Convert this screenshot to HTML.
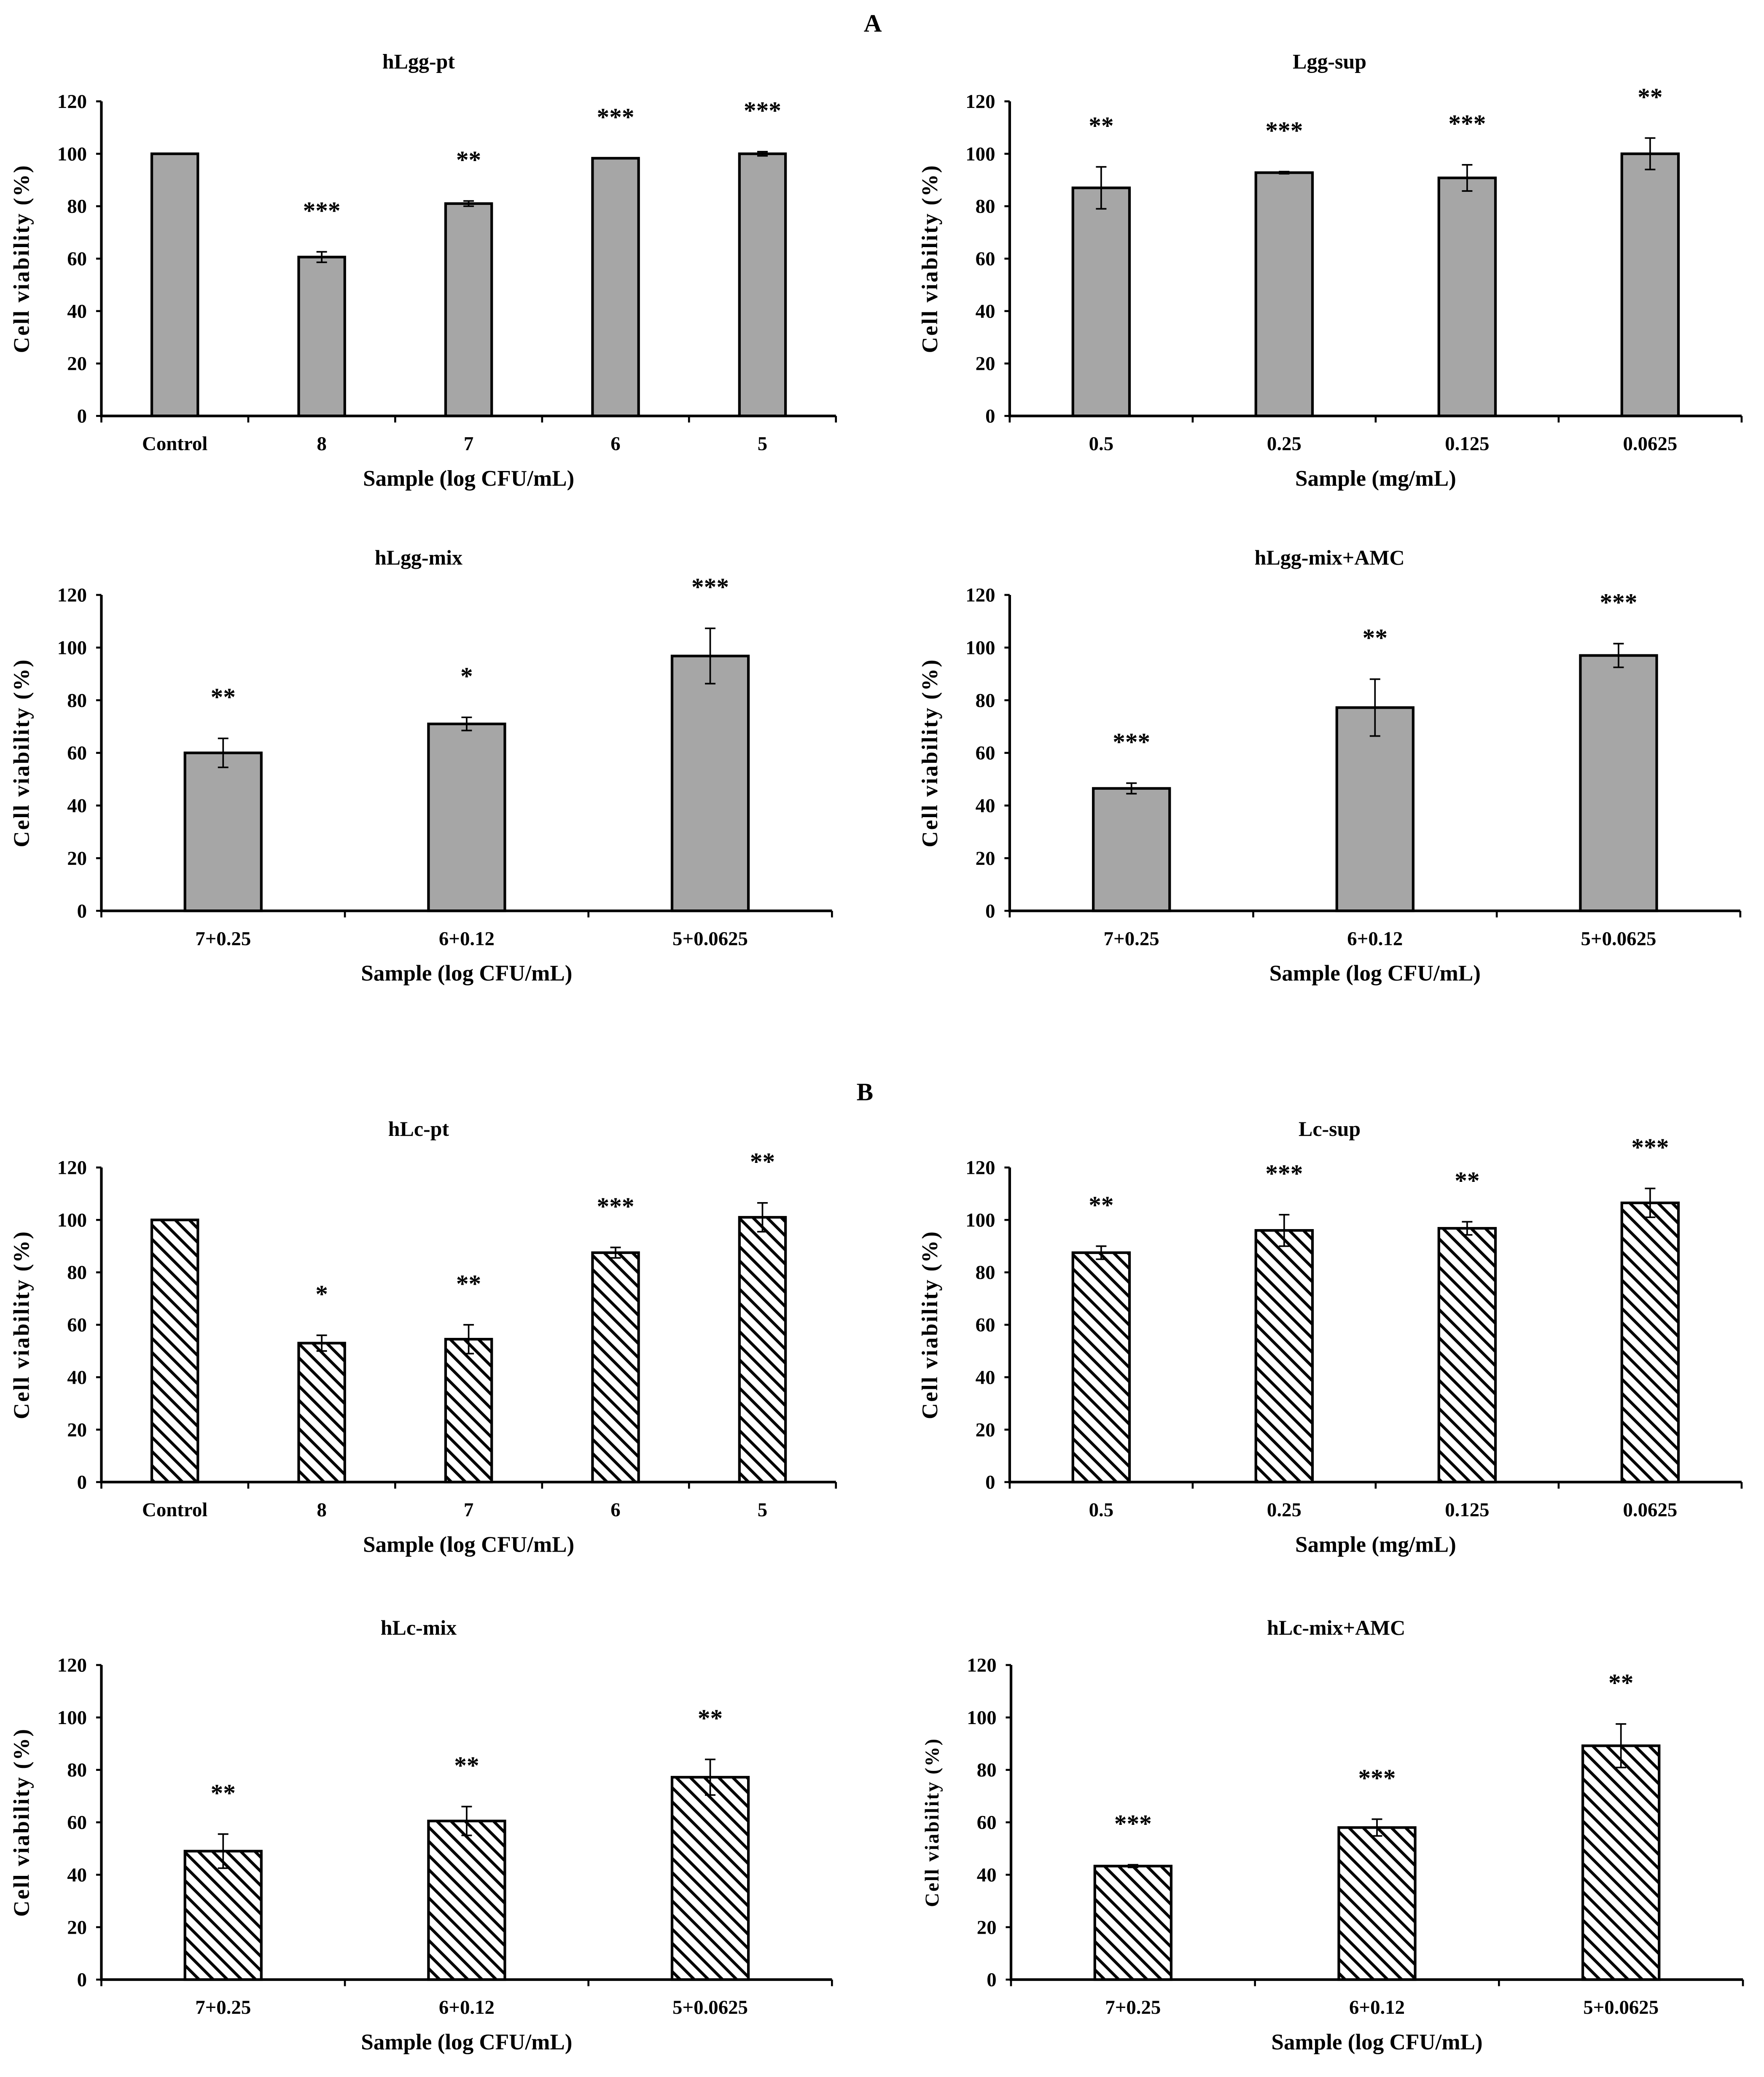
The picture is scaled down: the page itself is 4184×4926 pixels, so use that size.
<!DOCTYPE html>
<html><head><meta charset="utf-8"><style>
html,body{margin:0;padding:0;background:#fff;}
svg{display:block;}
text{font-family:"Liberation Serif",serif;font-weight:bold;fill:#000;}
</style></head><body>
<svg id="fig" width="4184" height="4926" viewBox="0 0 1340 1578" preserveAspectRatio="none" xmlns="http://www.w3.org/2000/svg">
<defs>
<pattern id="hatch" patternUnits="userSpaceOnUse" width="7.6" height="7.6" patternTransform="rotate(-45)">
<rect width="7.6" height="7.6" fill="#fff"/>
<line x1="0" y1="0" x2="0" y2="7.6" stroke="#000" stroke-width="4.4"/>
</pattern>
</defs>
<text x="663" y="24" font-size="19" text-anchor="middle">A</text>
<text x="657" y="836" font-size="19" text-anchor="middle">B</text>
</svg>
<script>
// ---- data ----
const catsPt = ["Control","8","7","6","5"];
const catsSup = ["0.5","0.25","0.125","0.0625"];
const catsMix = ["7+0.25","6+0.12","5+0.0625"];
const yTicks = [0,20,40,60,80,100,120];

const hLggPtVals = [100,60.6,81,98.3,100];
const hLggPtErr = [0,2,1,0,0.8];
const hLggPtStars = ["","***","**","***","***"];

const lggSupVals = [87,92.8,90.8,100];
const lggSupErr = [8,0.4,5,6];
const lggSupStars = ["**","***","***","**"];

const hLggMixVals = [60,71,96.8];
const hLggMixErr = [5.5,2.5,10.5];
const hLggMixStars = ["**","*","***"];

const hLggAmcVals = [46.5,77.2,97];
const hLggAmcErr = [2,10.8,4.5];
const hLggAmcStars = ["***","**","***"];

const hLcPtVals = [100,53,54.5,87.5,101];
const hLcPtErr = [0,3,5.5,2,5.5];
const hLcPtStars = ["","*","**","***","**"];

const lcSupVals = [87.5,96,96.8,106.5];
const lcSupErr = [2.5,6,2.5,5.5];
const lcSupStars = ["**","***","**","***"];

const hLcMixVals = [49,60.5,77.2];
const hLcMixErr = [6.5,5.5,6.8];
const hLcMixStars = ["**","**","**"];

const hLcAmcVals = [43.3,58,89.2];
const hLcAmcErr = [0.5,3.2,8.3];
const hLcAmcStars = ["***","***","**"];

const NS = "http://www.w3.org/2000/svg";
const svg = document.getElementById("fig");
function mk(tag, attrs, parent){
  const e = document.createElementNS(NS, tag);
  for (const k in attrs) e.setAttribute(k, attrs[k]);
  (parent||svg).appendChild(e);
  return e;
}

function panel(o){
  const g = mk("g", {});
  
  
  const yS = v => o.y0 - (v/120)*(o.y0 - o.y120);
  const n = o.cats.length;
  const step = (o.x1 - o.x0)/n;
  const xC = i => o.x0 + step*(i+0.5);
  const t = mk("text", {x:o.tx, y:o.ty, "font-size":16, "text-anchor":"middle"}, g);
  t.textContent = o.title;
  
  
  o.vals.forEach((v,i)=>{
    const bw = o.bw;
    const r = mk("rect", {x:xC(i)-bw/2, y:yS(v), width:bw, height:yS(0)-yS(v),
      fill: o.hatch ? "url(#hatch)" : "#a6a6a6", stroke:"#000", "stroke-width":2}, g);
    
    
    const e = o.err[i];
    if (e > 0) {
      const eb = mk("path", {d:`M${xC(i)},${yS(v-e)}V${yS(v+e)}M${xC(i)-4},${yS(v+e)}h8M${xC(i)-4},${yS(v-e)}h8`,
        stroke:"#000", "stroke-width":1.2, fill:"none"}, g);
      
      
    }
    if (o.stars[i]) {
      const s = mk("text", {x:xC(i), y:yS(v+e+17)+9, "font-size":19, "text-anchor":"middle", "font-weight":"normal"}, g);
      s.textContent = o.stars[i];
      
      
    }
    const cl = mk("text", {x:xC(i), y:o.y0+26, "font-size":15, "text-anchor":"middle"}, g);
    cl.textContent = o.cats[i];
    
    
  });
  const ax = mk("path", {d:`M${o.x0},${o.y120}V${o.y0}H${o.x1}`, stroke:"#000", "stroke-width":2, fill:"none"}, g);
  
  
  yTicks.forEach(tv=>{
    mk("line", {x1:o.x0-4, x2:o.x0, y1:yS(tv), y2:yS(tv), stroke:"#000", "stroke-width":1.5}, g);
    const tl = mk("text", {x:o.x0-11, y:yS(tv)+5, "font-size":15, "text-anchor":"end"}, g);
    tl.textContent = tv;
    
    
  });
  for (let i=0;i<=n;i++){
    mk("line", {x1:o.x0+step*i, x2:o.x0+step*i, y1:o.y0, y2:o.y0+5, stroke:"#000", "stroke-width":1.5}, g);
  }
  const xt = mk("text", {x:(o.x0+o.x1)/2, y:o.y0+53, "font-size":17, "text-anchor":"middle"}, g);
  xt.textContent = o.xtitle;
  
  
  const ym = (o.y0+o.y120)/2;
  const yx = o.x0 - 55;
  const yt = mk("text", {x:yx, y:ym, "font-size":o.ysz||17, "text-anchor":"middle", "letter-spacing":"1",
    transform:`rotate(-90 ${yx} ${ym})`}, g);
  yt.textContent = "Cell viability (%)";
  
  
}

const cfu = "Sample (log CFU/mL)";
panel({name:"chart-hlgg-pt", title:"hLgg-pt", tx:318, ty:52, x0:77, x1:635, y0:316, y120:77, bw:35, cats:catsPt, vals:hLggPtVals, err:hLggPtErr, stars:hLggPtStars, xtitle:cfu});
panel({name:"chart-lgg-sup", title:"Lgg-sup", tx:1010, ty:52, x0:767, x1:1323, y0:316, y120:77, bw:43, cats:catsSup, vals:lggSupVals, err:lggSupErr, stars:lggSupStars, xtitle:"Sample (mg/mL)"});
panel({name:"chart-hlgg-mix", title:"hLgg-mix", tx:318, ty:429, x0:77, x1:632, y0:692, y120:452, bw:58, cats:catsMix, vals:hLggMixVals, err:hLggMixErr, stars:hLggMixStars, xtitle:cfu});
panel({name:"chart-hlgg-mix-amc", title:"hLgg-mix+AMC", tx:1010, ty:429, x0:767, x1:1322, y0:692, y120:452, bw:58, cats:catsMix, vals:hLggAmcVals, err:hLggAmcErr, stars:hLggAmcStars, xtitle:cfu});
panel({name:"chart-hlc-pt", title:"hLc-pt", tx:318, ty:863, x0:77, x1:635, y0:1126, y120:887, bw:35, hatch:true, cats:catsPt, vals:hLcPtVals, err:hLcPtErr, stars:hLcPtStars, xtitle:cfu});
panel({name:"chart-lc-sup", title:"Lc-sup", tx:1010, ty:863, x0:767, x1:1323, y0:1126, y120:887, bw:43, hatch:true, cats:catsSup, vals:lcSupVals, err:lcSupErr, stars:lcSupStars, xtitle:"Sample (mg/mL)"});
panel({name:"chart-hlc-mix", title:"hLc-mix", tx:318, ty:1242, x0:77, x1:632, y0:1504, y120:1265, bw:58, hatch:true, cats:catsMix, vals:hLcMixVals, err:hLcMixErr, stars:hLcMixStars, xtitle:cfu});
panel({name:"chart-hlc-mix-amc", title:"hLc-mix+AMC", tx:1015, ty:1242, x0:768, x1:1324, y0:1504, y120:1265, bw:58, hatch:true, ysz:15, cats:catsMix, vals:hLcAmcVals, err:hLcAmcErr, stars:hLcAmcStars, xtitle:cfu});
</script>
</body></html>
